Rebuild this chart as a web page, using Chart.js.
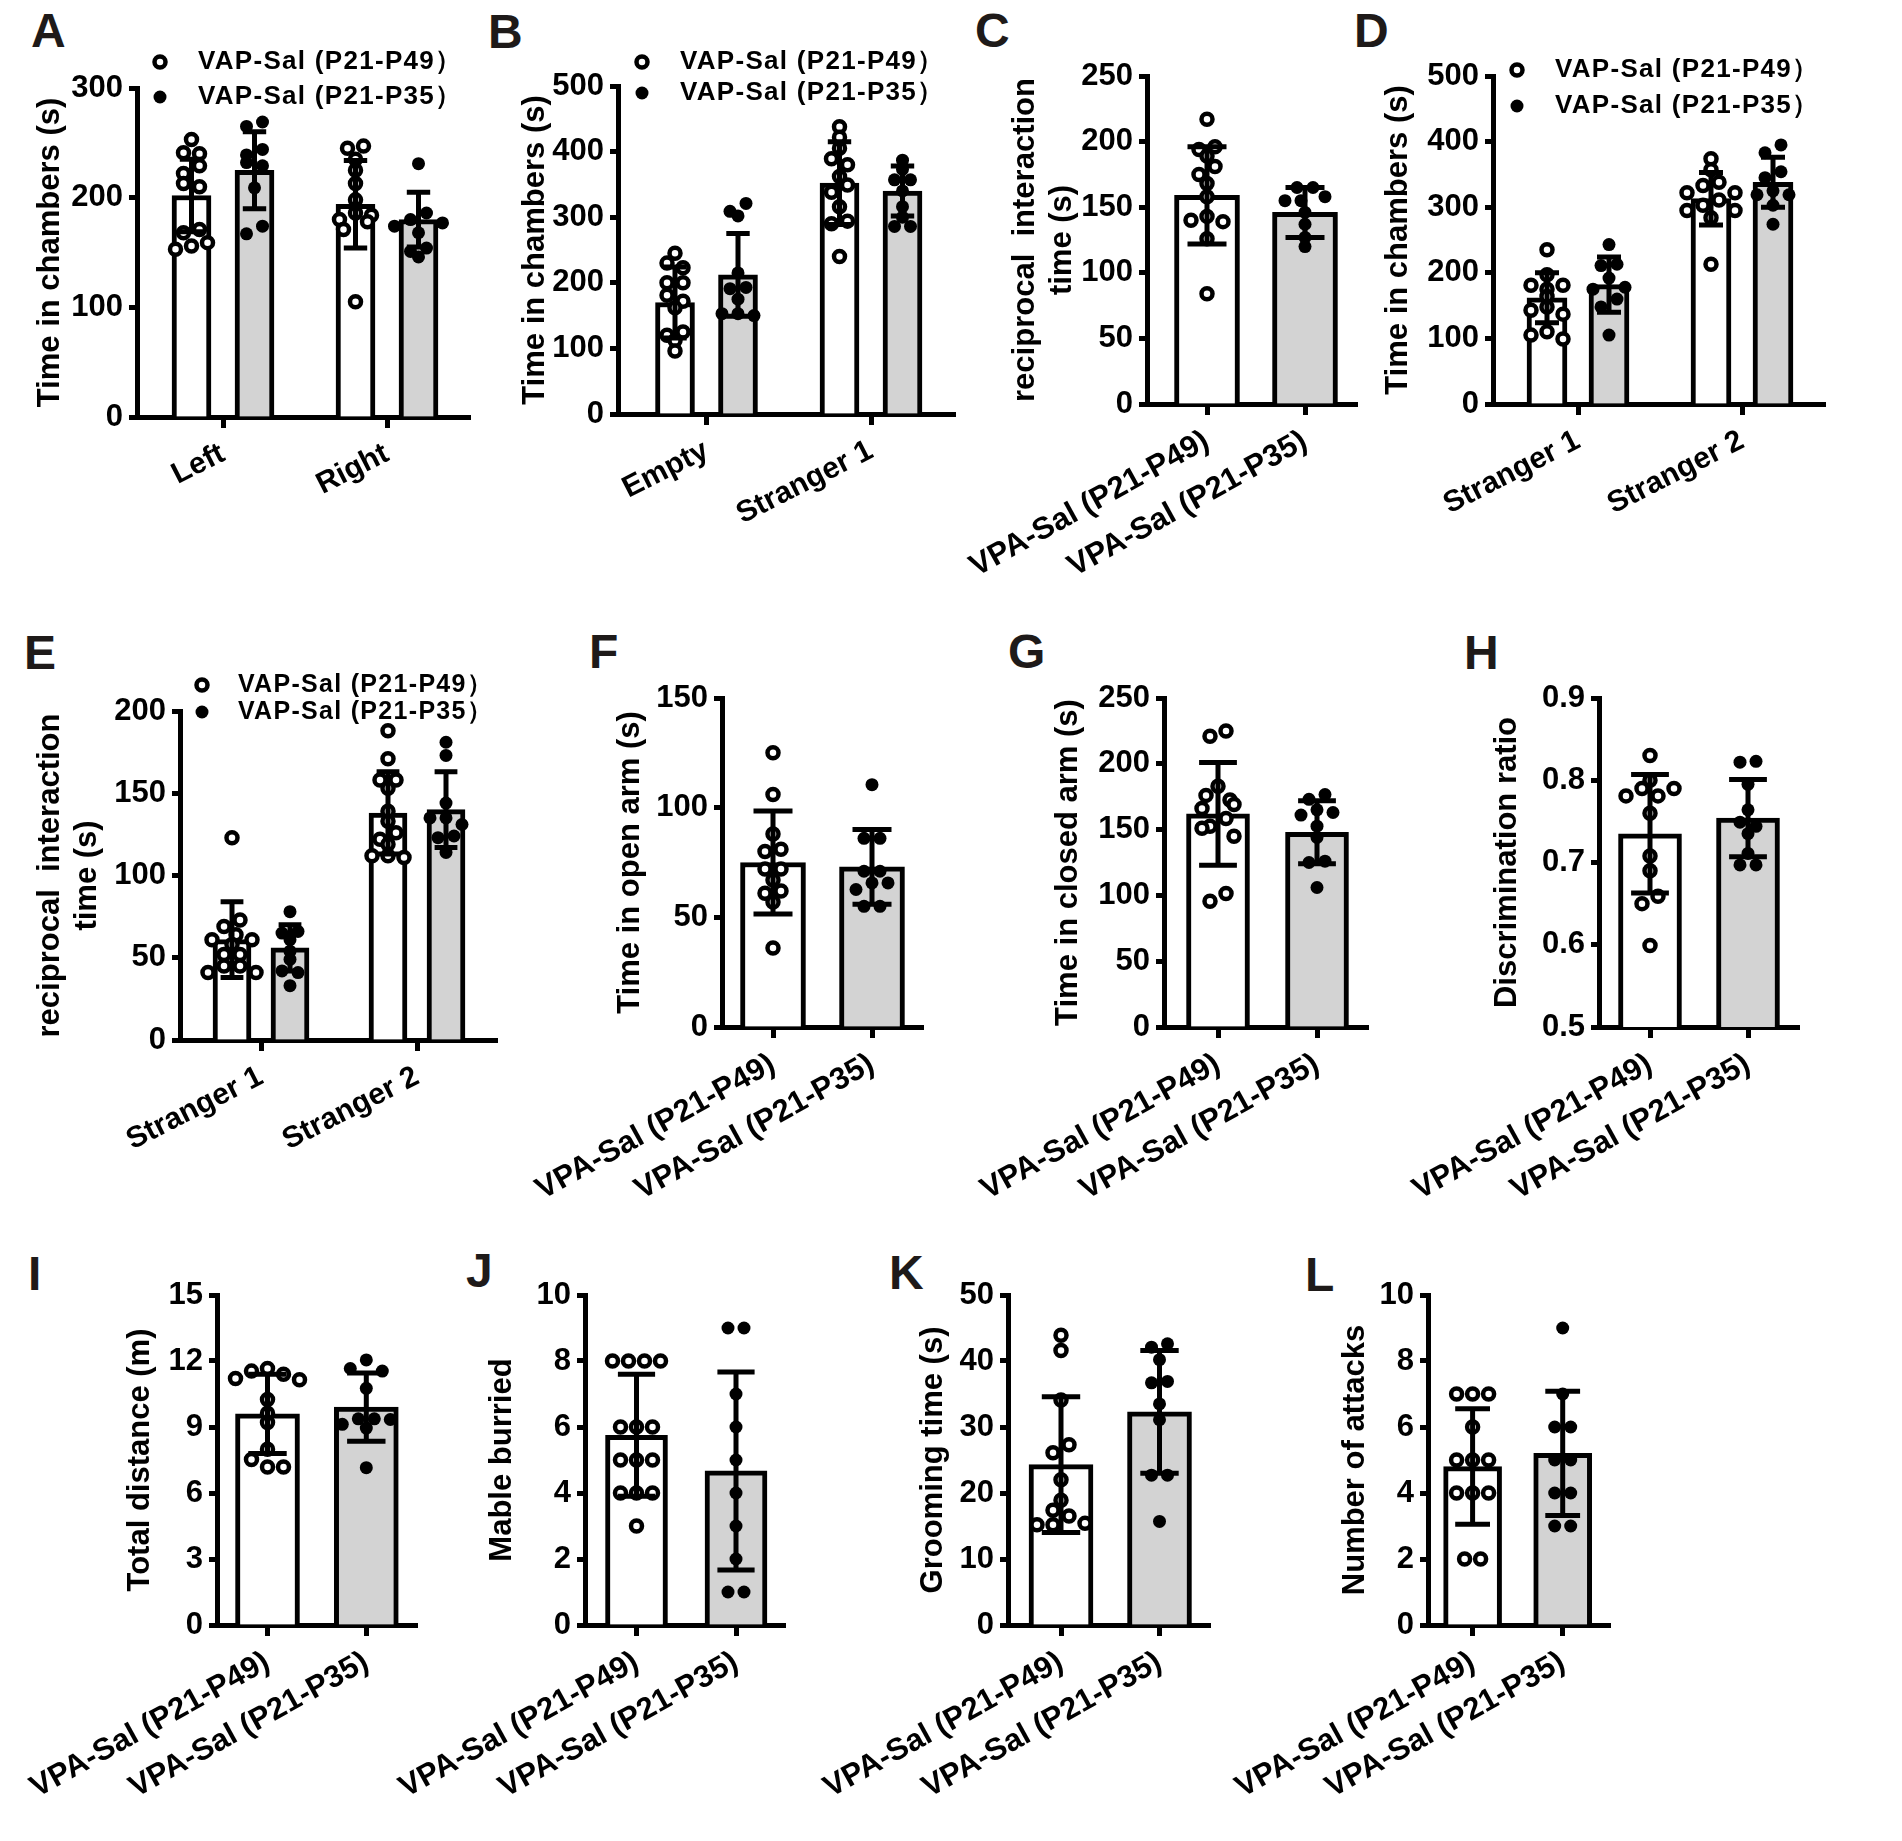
<!DOCTYPE html>
<html>
<head>
<meta charset="utf-8">
<script src="https://cdn.jsdelivr.net/npm/chart.js"></script>
<style>
  html, body { margin: 0; padding: 0; background: #fff; }
  #fig { position: relative; width: 1902px; height: 1841px; overflow: hidden; background: #fff; }
  #fig canvas { position: absolute; }
  .tag { position: absolute; font: bold 48px/48px "Liberation Sans", Arial, sans-serif; color: #1e1a19; }
</style>
</head>
<body>
<div id="fig"></div>
<script>
// ---- data ----
const series = ['VAP-Sal (P21-P49）', 'VAP-Sal (P21-P35）'];
const vpaCats = ['VPA-Sal (P21-P49)', 'VPA-Sal (P21-P35)'];

// A
const aCats = ['Left', 'Right'];
const aMean49 = [202, 194], aSd49 = [33, 40];
const aMean35 = [225, 180], aSd35 = [35, 25];
const aPts49 = [[253, 241, 240, 229, 222, 213, 210, 171, 168, 159, 156, 153], [247, 245, 235, 225, 213, 198, 186, 184, 180, 178, 171, 105]];
const aPts35 = [[269, 265, 244, 239, 232, 229, 209, 174, 167], [231, 186, 180, 177, 174, 168, 154, 151, 146]];
const aTicks = [0, 100, 200, 300];

// B
const bCats = ['Empty', 'Stranger 1'];
const bMean49 = [170, 352], bSd49 = [54, 63];
const bMean35 = [212, 340], bSd35 = [63, 38];
const bPts49 = [[245, 230, 223, 200, 200, 181, 172, 162, 125, 120, 112, 96], [438, 422, 405, 389, 380, 362, 349, 338, 316, 294, 290, 240]];
const bPts35 = [[321, 309, 302, 215, 193, 191, 175, 153, 153, 150], [387, 373, 357, 357, 340, 316, 300, 286, 286]];
const bTicks = [0, 100, 200, 300, 400, 500];

// C
const cMean = [159, 146], cSd = [37, 19];
const cPts49 = [217, 196, 194, 189, 181, 175, 168, 158, 143, 140, 139, 126, 84];
const cPts35 = [165, 165, 158, 155, 155, 146, 137, 127, 120];
const cTicks = [0, 50, 100, 150, 200, 250];

// D
const dCats = ['Stranger 1', 'Stranger 2'];
const dMean49 = [162, 313], dSd49 = [38, 40];
const dMean35 = [182, 338], dSd35 = [42, 38];
const dPts49 = [[235, 197, 181, 181, 175, 164, 148, 143, 137, 110, 105, 99], [374, 357, 338, 333, 322, 322, 311, 303, 295, 295, 284, 213]];
const dPts35 = [[243, 213, 211, 192, 178, 175, 160, 148, 105], [395, 383, 354, 345, 325, 319, 319, 303, 274]];
const dTicks = [0, 100, 200, 300, 400, 500];

// E
const eCats = ['Stranger 1', 'Stranger 2'];
const eMean49 = [61, 138], eSd49 = [23, 25];
const eMean35 = [56, 140], eSd35 = [14, 23];
const ePts49 = [[123, 73, 69, 64, 61, 61, 58, 52, 52, 45, 45, 41, 41], [188, 171, 158, 158, 153, 139, 133, 126, 122, 119, 112, 112, 111]];
const ePts35 = [[78, 66, 65, 61, 54, 49, 42, 41, 33], [181, 173, 144, 135, 135, 131, 124, 123, 114]];
const eTicks = [0, 50, 100, 150, 200];

// F
const fMean = [75, 73], fSd = [23.5, 17];
const fPts49 = [125, 106, 88, 81, 80, 72, 72, 67, 62, 61, 57, 36];
const fPts35 = [110.5, 86, 86, 71, 71, 65.7, 65.7, 62.7, 55, 55];
const fTicks = [0, 50, 100, 150];

// G
const gMean = [162, 148], gSd = [39, 24];
const gPts49 = [225, 221, 183, 176, 172.5, 169, 166, 158.5, 152.6, 151, 145, 101.5, 95.6];
const gPts35 = [176.6, 173, 165, 163, 161, 152.6, 144, 126, 125, 106];
const gTicks = [0, 50, 100, 150, 200, 250];

// H
const hMean = [0.735, 0.754], hSd = [0.072, 0.047];
const hPts49 = [0.83, 0.80, 0.79, 0.79, 0.781, 0.781, 0.76, 0.708, 0.69, 0.659, 0.65, 0.599];
const hPts35 = [0.823, 0.822, 0.795, 0.764, 0.749, 0.744, 0.735, 0.711, 0.697, 0.697];
const hTicks = [0.5, 0.6, 0.7, 0.8, 0.9];

// I
const iMean = [9.6, 9.9], iSd = [1.8, 1.55];
const iPts49 = [11.66, 11.54, 11.4, 11.2, 11.15, 10.25, 9.63, 9.2, 7.99, 7.52, 7.18, 7.18];
const iPts35 = [12.05, 11.66, 11.54, 10.76, 9.37, 9.37, 9.34, 9.12, 8.95, 7.15];
const iTicks = [0, 3, 6, 9, 12, 15];

// J
const jMean = [5.75, 4.67], jSd = [1.85, 3.0];
const jPts49 = [8, 8, 8, 8, 6, 6, 6, 5, 5, 5, 4, 4, 4, 3];
const jPts35 = [9, 9, 7, 6, 5, 4, 3, 2, 1, 1];
const jTicks = [0, 2, 4, 6, 8, 10];

// K
const kMean = [24.3, 32.3], kSd = [10.3, 9.3];
const kPts49 = [43.9, 41.6, 34.1, 27.3, 26.1, 22, 18.9, 17.4, 16.5, 15.4, 15.2, 15.2];
const kPts35 = [42.6, 42.1, 40.2, 36.9, 36.7, 33.5, 31.1, 22.7, 22.7, 15.7];
const kTicks = [0, 10, 20, 30, 40, 50];

// L
const lMean = [4.8, 5.2], lSd = [1.75, 1.88];
const lPts49 = [7, 7, 7, 6, 5, 5, 5, 4, 4, 4, 2, 2];
const lPts35 = [9, 7, 6, 6, 5, 5, 4, 4, 3, 3];
const lTicks = [0, 2, 4, 6, 8, 10];

// ---- layout (page pixels) ----
// box: canvas [x, y, w, h]; axis: [y-axis x, top, x-axis right end, bottom]
const chambers = 'Time in chambers (s)';
const recip = ['reciprocal  interaction', 'time (s)'];
const layout = {
  A: { box: [0, 0, 490, 560], axis: [137, 88, 470, 417], slots: [223, 387], off: 31.5, barW: 39, title: chambers, titleX: 50, rot: 27, lab: 30, legend: [160, 62, 97, 198, 26] },
  B: { box: [470, 0, 520, 560], axis: [618, 86, 955, 414], slots: [706.5, 871], off: 31.5, barW: 39, title: chambers, titleX: 535, rot: 27, lab: 30, legend: [642, 62, 93, 680, 26] },
  C: { box: [900, 0, 490, 630], axis: [1147, 76, 1357, 404], slots: [1207, 1305], barW: 65, title: recip, titleX: 1025, rot: 29, lab: 31 },
  D: { box: [1370, 0, 532, 560], axis: [1493, 76, 1825, 404], slots: [1578, 1742], off: 31, barW: 40, title: chambers, titleX: 1398, rot: 27, lab: 30, legend: [1517, 70, 106, 1555, 26] },
  E: { box: [0, 620, 520, 620], axis: [180, 711, 497, 1040], slots: [261, 417], off: 29, barW: 38, title: recip, titleX: 50, rot: 27, lab: 30, legend: [202, 685, 712, 238, 25] },
  F: { box: [500, 620, 460, 640], axis: [722, 698, 923, 1027], slots: [773, 872], barW: 65, title: 'Time in open arm (s)', titleX: 630, rot: 29, lab: 31 },
  G: { box: [950, 620, 450, 640], axis: [1164, 698, 1368, 1027], slots: [1218, 1317], barW: 63, title: 'Time in closed arm (s)', titleX: 1068, rot: 29, lab: 31 },
  H: { box: [1375, 620, 527, 640], axis: [1599, 698, 1799, 1027], slots: [1650, 1748], barW: 63, title: 'Discrimination ratio', titleX: 1507, rot: 29, lab: 31 },
  I: { box: [0, 1240, 470, 601], axis: [217, 1295, 417, 1625], slots: [267.5, 366.3], barW: 64, title: 'Total distance (m)', titleX: 140, rot: 29, lab: 31 },
  J: { box: [370, 1240, 530, 601], axis: [585, 1295, 785, 1625], slots: [636.5, 736], barW: 62, title: 'Mable burried', titleX: 502, rot: 29, lab: 31 },
  K: { box: [790, 1240, 500, 601], axis: [1008, 1295, 1210, 1625], slots: [1061, 1159.5], barW: 64, title: 'Grooming time (s)', titleX: 933, rot: 29, lab: 31 },
  L: { box: [1200, 1240, 702, 601], axis: [1428, 1295, 1610, 1625], slots: [1472.6, 1562.7], barW: 58, title: 'Number of attacks', titleX: 1355, rot: 29, lab: 31 }
};
const tags = [['A', 31, 48], ['B', 488, 49], ['C', 975, 48], ['D', 1354, 48],
              ['E', 24, 670], ['F', 589, 669], ['G', 1008, 669], ['H', 1464, 670],
              ['I', 28, 1291], ['J', 466, 1288], ['K', 889, 1290], ['L', 1305, 1292]];

const GREY = '#d3d3d3';
const FONT = '"Liberation Sans", Arial, sans-serif';
Chart.defaults.font.family = FONT;
Chart.defaults.font.weight = 'bold';
Chart.defaults.color = '#000';

const fig = document.getElementById('fig');
tags.forEach(([t, x, base]) => {
  const d = document.createElement('div');
  d.className = 'tag';
  d.textContent = t;
  d.style.left = x + 'px';
  d.style.top = (base - 40.6) + 'px';
  fig.appendChild(d);
});

// spread points sideways so they don't sit on top of each other
function swarm(vals, toPx, d) {
  const idx = vals.map((_, i) => i).sort((a, b) => vals[b] - vals[a]);
  const pos = [];
  const off = [];
  idx.forEach(i => {
    const y = toPx(vals[i]);
    for (let k = 0; ; k++) {
      const dx = (k % 2 ? -1 : 1) * Math.ceil(k / 2) * d / 2;
      if (pos.every(p => (p.x - dx) ** 2 + (p.y - y) ** 2 >= d * d * 0.75)) {
        pos.push({ x: dx, y: y, i: i });
        break;
      }
    }
  });
  const done = new Set();
  pos.forEach(p => {
    if (done.has(p)) return;
    const row = pos.filter(q => !done.has(q) && Math.abs(q.y - p.y) < d * 0.5);
    row.forEach(q => done.add(q));
    const xs = row.map(q => q.x);
    const mid = (Math.min(...xs) + Math.max(...xs)) / 2;
    row.forEach(q => { off[q.i] = q.x - mid; });
  });
  return off;
}

const errorBars = {
  id: 'errorBars',
  afterDatasetsDraw(chart) {
    const ds = chart.data.datasets[0];
    const meta = chart.getDatasetMeta(0);
    const ys = chart.scales.y;
    const ctx = chart.ctx;
    ctx.save();
    ctx.strokeStyle = '#000';
    ctx.lineWidth = 5;
    meta.data.forEach((bar, i) => {
      const m = ds.data[i].y, s = ds.sd[i];
      const yt = ys.getPixelForValue(m + s), yb = ys.getPixelForValue(m - s);
      const h = bar.width * 0.3;
      ctx.beginPath();
      ctx.moveTo(bar.x, yt); ctx.lineTo(bar.x, yb);
      ctx.moveTo(bar.x - h, yt); ctx.lineTo(bar.x + h, yt);
      ctx.moveTo(bar.x - h, yb); ctx.lineTo(bar.x + h, yb);
      ctx.stroke();
    });
    ctx.restore();
  }
};

function legendPlugin(L) {
  return {
    id: 'insideLegend',
    afterDraw(chart) {
      if (!L.legend) return;
      const [mx, y1, y2, tx, size] = L.legend;
      const bx = L.box[0], by = L.box[1];
      const ctx = chart.ctx;
      ctx.save();
      ctx.font = 'bold ' + size + 'px ' + FONT;
      ctx.letterSpacing = '1.3px';
      ctx.textBaseline = 'middle';
      [y1, y2].forEach((y, i) => {
        ctx.beginPath();
        if (i === 0) {
          ctx.arc(mx - bx, y - by, 5.5, 0, Math.PI * 2);
          ctx.fillStyle = '#fff'; ctx.fill();
          ctx.lineWidth = 4.5; ctx.strokeStyle = '#000'; ctx.stroke();
        } else {
          ctx.arc(mx - bx, y - by, 6.5, 0, Math.PI * 2);
          ctx.fillStyle = '#000'; ctx.fill();
        }
        ctx.fillStyle = '#000';
        ctx.fillText(chart.data.datasets[i + 1].label, tx - bx, y - by);
      });
      ctx.restore();
    }
  };
}

function grouped(m49, s49, p49, m35, s35, p35) {
  const out = [];
  m49.forEach((_, c) => {
    out.push({ cat: c, ser: 0, mean: m49[c], sd: s49[c], pts: p49[c] });
    out.push({ cat: c, ser: 1, mean: m35[c], sd: s35[c], pts: p35[c] });
  });
  return out;
}
function single(m, s, p49, p35) {
  return [{ cat: 0, ser: 0, mean: m[0], sd: s[0], pts: p49 },
          { cat: 1, ser: 1, mean: m[1], sd: s[1], pts: p35 }];
}

function makeChart(key, cats, bars, ticks, decimals) {
  const L = layout[key];
  const [bx, by, bw, bh] = L.box;
  const [ax, top, right, zero] = L.axis;
  const isGrouped = bars.length > cats.length;
  const unit = L.slots[1] - L.slots[0];
  const xMin = 1 - (L.slots[0] - ax) / unit;
  const xMax = 2 + (right - L.slots[1]) / unit;
  const yMin = ticks[0], yMax = ticks[ticks.length - 1];
  const pxPerY = (zero - top) / (yMax - yMin);
  const barX = b => b.cat + 1 + (isGrouped ? (b.ser ? 1 : -1) * L.off / unit : 0);

  const pts = [[], []];
  bars.forEach(b => {
    const offs = swarm(b.pts, v => v * pxPerY, 16);
    b.pts.forEach((v, i) => pts[b.ser].push({ x: barX(b) + offs[i] / unit, y: v }));
  });

  const cv = document.createElement('canvas');
  cv.width = bw; cv.height = bh;
  cv.style.left = bx + 'px'; cv.style.top = by + 'px';
  fig.appendChild(cv);

  const tSize = 31;
  new Chart(cv, {
    type: 'scatter',
    data: {
      datasets: [
        { type: 'bar', data: bars.map(b => ({ x: barX(b), y: b.mean })), sd: bars.map(b => b.sd),
          backgroundColor: bars.map(b => b.ser ? GREY : '#fff'), borderColor: '#000', borderWidth: 5,
          barThickness: L.barW, grouped: false, order: 3 },
        { label: series[0], data: pts[0], pointRadius: 5.5, pointBorderWidth: 4.5,
          pointBackgroundColor: '#fff', pointBorderColor: '#000', order: 1 },
        { label: series[1], data: pts[1], pointRadius: 6.5, pointBorderWidth: 0,
          pointBackgroundColor: '#000', pointBorderColor: '#000', order: 1 }
      ]
    },
    options: {
      responsive: false, animation: false, devicePixelRatio: 1,
      layout: { autoPadding: false, padding: { left: 0, top: top - by, right: bx + bw - right, bottom: 0 } },
      plugins: { legend: { display: false }, tooltip: { enabled: false } },
      scales: {
        x: {
          type: 'linear', min: xMin, max: xMax, offset: false,
          afterBuildTicks: s => { s.ticks = cats.map((c, i) => ({ value: i + 1 })); },
          afterFit: s => { s.height = by + bh - zero; s.paddingLeft = 0; s.paddingRight = 0; },
          ticks: { autoSkip: false, minRotation: L.rot, maxRotation: L.rot, padding: 8,
                   font: { size: L.lab, weight: 'bold' }, callback: v => cats[Math.round(v) - 1] },
          grid: { drawOnChartArea: false, offset: false, tickLength: 11, tickWidth: 5, tickColor: '#000' },
          border: { color: '#000', width: 5 }
        },
        y: {
          type: 'linear', min: yMin, max: yMax,
          afterBuildTicks: s => { s.ticks = ticks.map(v => ({ value: v })); },
          afterFit: s => { s.width = ax - bx; s.paddingTop = 0; s.paddingBottom = 0; },
          ticks: { padding: 6, font: { size: 31, weight: 'bold' },
                   callback: v => decimals ? Number(v).toFixed(decimals) : v },
          grid: { drawOnChartArea: false, tickLength: 8, tickWidth: 5, tickColor: '#000' },
          border: { color: '#000', width: 5 },
          title: { display: true, text: L.title, font: { size: tSize, weight: 'bold' },
                   padding: { top: L.titleX - bx - tSize * 0.6, bottom: 0 } }
        }
      }
    },
    plugins: [errorBars, legendPlugin(L)]
  });
}

makeChart('A', aCats, grouped(aMean49, aSd49, aPts49, aMean35, aSd35, aPts35), aTicks);
makeChart('B', bCats, grouped(bMean49, bSd49, bPts49, bMean35, bSd35, bPts35), bTicks);
makeChart('C', vpaCats, single(cMean, cSd, cPts49, cPts35), cTicks);
makeChart('D', dCats, grouped(dMean49, dSd49, dPts49, dMean35, dSd35, dPts35), dTicks);
makeChart('E', eCats, grouped(eMean49, eSd49, ePts49, eMean35, eSd35, ePts35), eTicks);
makeChart('F', vpaCats, single(fMean, fSd, fPts49, fPts35), fTicks);
makeChart('G', vpaCats, single(gMean, gSd, gPts49, gPts35), gTicks);
makeChart('H', vpaCats, single(hMean, hSd, hPts49, hPts35), hTicks, 1);
makeChart('I', vpaCats, single(iMean, iSd, iPts49, iPts35), iTicks);
makeChart('J', vpaCats, single(jMean, jSd, jPts49, jPts35), jTicks);
makeChart('K', vpaCats, single(kMean, kSd, kPts49, kPts35), kTicks);
makeChart('L', vpaCats, single(lMean, lSd, lPts49, lPts35), lTicks);
</script>
</body>
</html>
